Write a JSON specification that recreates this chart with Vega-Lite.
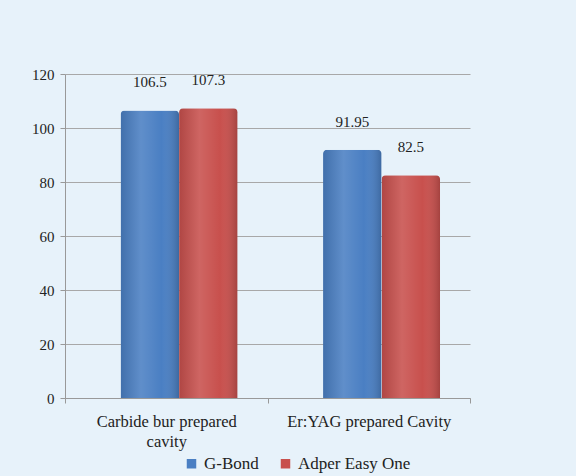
{
  "$schema": "https://vega.github.io/schema/vega-lite/v6.json",
  "autosize": "none",
  "width": 405,
  "height": 324,
  "padding": {"left": 65, "top": 74, "right": 106, "bottom": 78},
  "background": "#e7f2fa",
  "data": {"values": [
    {"cavity": "Carbide bur prepared cavity", "adhesive": "G-Bond", "value": 106.5},
    {"cavity": "Carbide bur prepared cavity", "adhesive": "Adper Easy One", "value": 107.3},
    {"cavity": "Er:YAG prepared Cavity", "adhesive": "G-Bond", "value": 91.95},
    {"cavity": "Er:YAG prepared Cavity", "adhesive": "Adper Easy One", "value": 82.5}
  ]},
  "encoding": {
    "x": {"field": "cavity", "type": "nominal", "sort": null, "title": null,
      "scale": {"paddingInner": 0, "paddingOuter": 0},
      "axis": {"labelAngle": 0, "labelFont": "Liberation Serif", "labelFontSize": 16.5, "labelColor": "#222",
        "labelExpr": "datum.label == 'Carbide bur prepared cavity' ? ['Carbide bur prepared', 'cavity'] : datum.label",
        "labelPadding": 10, "labelLineHeight": 20, "domainColor": "#999", "tickColor": "#999", "bandPosition": 0, "ticks": true, "tickBand": "extent", "labelLimit": 300}},
    "xOffset": {"field": "adhesive", "type": "nominal", "sort": ["G-Bond", "Adper Easy One"],
      "scale": {"paddingInner": 0, "paddingOuter": 0.73, "align": 0.65}},
    "y": {"field": "value", "type": "quantitative", "title": null,
      "scale": {"domain": [0, 120]},
      "axis": {"values": [0, 20, 40, 60, 80, 100, 120], "labelFont": "Liberation Serif", "labelFontSize": 15, "labelColor": "#222",
        "domainColor": "#999", "tickColor": "#999", "gridColor": "#a8a8a8", "labelPadding": 6}}
  },
  "layer": [
    {
      "mark": {"type": "bar", "cornerRadiusTopLeft": 4, "cornerRadiusTopRight": 4},
      "encoding": {
        "color": {"field": "adhesive", "type": "nominal", "sort": ["G-Bond", "Adper Easy One"],
          "scale": {"domain": ["G-Bond", "Adper Easy One"], "range": ["#4a7fc3", "#c8504d"]},
          "legend": {"orient": "none", "legendX": 118, "legendY": 381, "direction": "horizontal", "title": null, "symbolType": "square",
            "labelFont": "Liberation Serif", "labelFontSize": 17, "labelColor": "#222", "symbolSize": 90,
            "columnPadding": 18}}
      }
    },
    {
      "mark": {"type": "bar", "cornerRadiusTopLeft": 4, "cornerRadiusTopRight": 4,
        "fill": {"gradient": "linear", "x1": 0, "y1": 0, "x2": 1, "y2": 0,
          "stops": [
            {"offset": 0, "color": "rgba(0,0,0,0.12)"},
            {"offset": 0.35, "color": "rgba(255,255,255,0.12)"},
            {"offset": 0.7, "color": "rgba(255,255,255,0.0)"},
            {"offset": 1, "color": "rgba(0,0,0,0.18)"}
          ]}},
      "encoding": {}
    },
    {
      "mark": {"type": "text", "dy": -28, "font": "Liberation Serif", "fontSize": 15, "color": "#222"},
      "encoding": {"text": {"field": "value", "type": "quantitative"}}
    }
  ],
  "config": {"view": {"stroke": null}, "font": "Liberation Serif"}
}
